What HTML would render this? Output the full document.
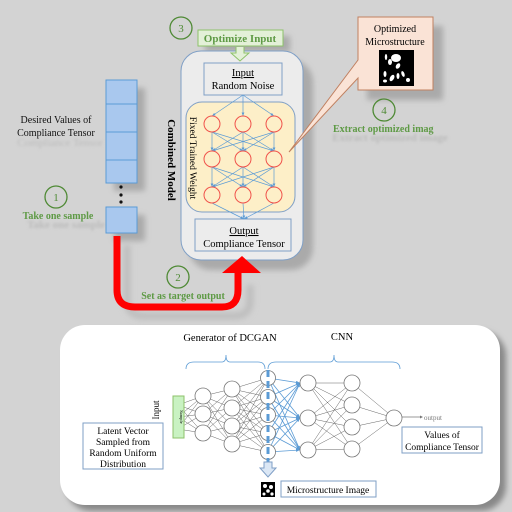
<!DOCTYPE html>
<html><head><meta charset="utf-8"><style>
html,body{margin:0;padding:0;width:512px;height:512px;overflow:hidden;background:#d3d3d3}
svg{display:block}
text{font-family:"Liberation Serif",serif}
</style></head><body>
<svg id="s" width="512" height="512" viewBox="0 0 512 512" xmlns="http://www.w3.org/2000/svg">
<defs>
<filter id="bl" x="-20%" y="-20%" width="140%" height="140%"><feGaussianBlur stdDeviation="3"/></filter>
<filter id="bl2"><feGaussianBlur stdDeviation="1.2"/></filter>
<marker id="ab" markerWidth="6" markerHeight="6" refX="5" refY="3" orient="auto"><path d="M0,1 L5,3 L0,5z" fill="#5b9bd5"/></marker>
</defs>
<rect width="512" height="512" fill="#d3d3d3"/>
<g fill="#a0a0a0" filter="url(#bl)" opacity="0.8">
<rect x="114" y="88" width="31" height="103"/>
<rect x="114" y="215" width="31" height="26"/>
<rect x="189" y="60" width="124" height="210" rx="22"/>
<rect x="367" y="26" width="76" height="74"/>
<rect x="205" y="36" width="85" height="16"/>
</g>
<g fill="none" stroke="#bdbdbd" stroke-width="7" filter="url(#bl)"><path d="M127,245 V300 Q127,316 145,316 H235 Q250,316 250,300 V285"/></g>
<g fill="#bbb" font-size="11" filter="url(#bl2)" font-weight="bold">
<text x="66" y="228" text-anchor="middle">Take one sample</text>
<text x="390" y="141" text-anchor="middle">Extract optimized image</text>
<text x="60" y="146" text-anchor="middle" font-weight="normal">Compliance Tensor</text>
</g>
<g fill="#a9c8ee" stroke="#5b9bd5" stroke-width="1">
<rect x="106" y="80" width="31" height="24"/><rect x="106" y="104" width="31" height="28"/>
<rect x="106" y="132" width="31" height="28"/><rect x="106" y="160" width="31" height="23"/>
<rect x="106" y="207" width="31" height="26"/>
</g>
<g fill="#111"><circle cx="121" cy="187" r="1.6"/><circle cx="121" cy="195" r="1.6"/><circle cx="121" cy="202" r="1.6"/></g>
<text x="56" y="123" font-size="10" text-anchor="middle" fill="#111">Desired Values of</text>
<text x="56" y="136" font-size="10" text-anchor="middle" fill="#111">Compliance Tensor</text>
<g fill="none" stroke="#4f8a35" stroke-width="1.3">
<circle cx="56" cy="197" r="11"/><circle cx="181" cy="28" r="11"/><circle cx="384" cy="110" r="11"/><circle cx="178" cy="277" r="11"/></g>
<g fill="#4f8a35" font-size="11" text-anchor="middle"><text x="56" y="201">1</text><text x="181" y="32">3</text><text x="384" y="114">4</text><text x="178" y="281">2</text></g>
<g fill="#5e9a45" font-size="10" font-weight="bold">
<text x="58" y="219" text-anchor="middle">Take one sample</text>
<text x="183" y="299" text-anchor="middle">Set as target output</text>
<text x="333" y="132">Extract optimized imag</text></g>
<rect x="181" y="51" width="122" height="209" rx="20" fill="#ececec" stroke="#7f9fc6"/>
<rect x="204" y="63" width="78" height="32" fill="#ececec" stroke="#7f9fc6"/>
<text x="243" y="76" font-size="10.5" text-anchor="middle" text-decoration="underline">Input</text>
<text x="243" y="89" font-size="10.5" text-anchor="middle">Random Noise</text>
<rect x="186" y="102" width="109" height="110" rx="16" fill="#fdefc8" stroke="#7f9fc6"/>
<rect x="195" y="219" width="96" height="32" fill="#ececec" stroke="#7f9fc6"/>
<text x="244" y="234" font-size="10.5" text-anchor="middle" text-decoration="underline">Output</text>
<text x="244" y="247" font-size="10.5" text-anchor="middle">Compliance Tensor</text>
<text transform="translate(168,160) rotate(90)" font-size="11" font-weight="bold" text-anchor="middle">Combined Model</text>
<text transform="translate(190,158) rotate(90)" font-size="9.5" text-anchor="middle">Fixed Trained Weight</text>
<g id="nn" stroke="#5b9bd5" stroke-width="0.7" fill="none"></g>
<g id="nc" fill="#fdefc8" stroke="#f0524b" stroke-width="1"></g>
<rect x="198" y="30" width="85" height="16" fill="#e3f0d8" stroke="#8dc26a"/>
<text x="240" y="42" font-size="11" font-weight="bold" text-anchor="middle" fill="#5e9a45">Optimize Input</text>
<path d="M236,47 V53 H231 L240,61 L249,53 H244 V47" fill="#e3f0d8" stroke="#8dc26a"/>
<path d="M358,17 H433 V90 H358 V78 L289,152 L358,60 Z" fill="#fae3d6" stroke="#c08060"/>
<text x="395" y="32" font-size="10" text-anchor="middle">Optimized</text>
<text x="395" y="45" font-size="10" text-anchor="middle">Microstructure</text>
<rect x="379" y="50" width="35" height="36" fill="#000"/>
<g fill="#fff"><ellipse cx="396" cy="58" rx="5" ry="4"/><ellipse cx="390" cy="62" rx="2" ry="3"/><ellipse cx="386" cy="57" rx="1.2" ry="3"/><ellipse cx="398" cy="66" rx="2" ry="3" transform="rotate(30 398 66)"/><ellipse cx="385" cy="74" rx="1.5" ry="3"/><ellipse cx="392" cy="78" rx="2" ry="3.5" transform="rotate(30 392 78)"/><ellipse cx="398" cy="76" rx="1.5" ry="3"/><ellipse cx="403" cy="74" rx="1.5" ry="3" transform="rotate(-20 403 74)"/><circle cx="408" cy="80" r="2"/><ellipse cx="385" cy="81" rx="2" ry="1.5"/></g>
<path d="M117,236 V290 Q117,307 135,307 H222 Q238,307 238,290 V271" fill="none" stroke="#ff0000" stroke-width="7"/>
<path d="M222,273 L242,256 L261,273 Z" fill="#ff0000"/>
<rect x="66" y="331" width="440" height="180" rx="25" fill="#888" filter="url(#bl)"/>
<rect x="60" y="325" width="440" height="180" rx="25" fill="#fff"/>
<text x="230" y="341" font-size="10.5" text-anchor="middle">Generator of DCGAN</text>
<text x="342" y="340" font-size="10.5" text-anchor="middle">CNN</text>
<g fill="none" stroke="#5b9bd5" stroke-width="0.8">
<path d="M186,369 Q186,362 194,362 H222 Q226,362 226,355 Q226,362 230,362 H258 Q265,362 265,369"/>
<path d="M268,369 Q268,362 276,362 H330 Q334,362 334,355 Q334,362 338,362 H392 Q400,362 400,369"/>
</g>
<g id="bn" stroke="#666" stroke-width="0.5" fill="none"></g>
<g id="bc" fill="#fff" stroke="#777" stroke-width="0.8"></g>
<rect x="173" y="396" width="11" height="42" fill="#c9f2c2" stroke="#8dc26a"/>
<text transform="translate(180,417) rotate(90)" font-size="4.5" text-anchor="middle">Sample</text>
<text transform="translate(159,410) rotate(-90)" font-size="9" text-anchor="middle">Input</text>
<line x1="268" y1="370" x2="268" y2="462" stroke="#5b9bd5" stroke-width="3" stroke-dasharray="7,4"/>
<path d="M264,462 H272 V468 H276 L268,477 L260,468 H264 Z" fill="#dbe7f5" stroke="#7f9fc6"/>
<rect x="261" y="482" width="14" height="15" fill="#000"/>
<g fill="#fff"><circle cx="265" cy="486" r="2"/><circle cx="271" cy="487" r="2"/><circle cx="268" cy="491" r="1.8"/><circle cx="264" cy="494" r="1.5"/><circle cx="272" cy="494" r="1.6"/></g>
<rect x="281" y="481" width="95" height="16" fill="#fff" stroke="#7f9fc6"/>
<text x="328" y="493" font-size="9.5" text-anchor="middle">Microstructure Image</text>
<rect x="83" y="423" width="80" height="46" fill="#fff" stroke="#7f9fc6"/>
<g font-size="9.5" text-anchor="middle"><text x="123" y="434">Latent Vector</text><text x="123" y="445">Sampled from</text><text x="123" y="456">Random Uniform</text><text x="123" y="467">Distribution</text></g>
<rect x="402" y="427" width="80" height="26" fill="#fff" stroke="#7f9fc6"/>
<g font-size="9.5" text-anchor="middle"><text x="442" y="438">Values of</text><text x="442" y="450">Compliance Tensor</text></g>
<line x1="402" y1="417" x2="420" y2="417" stroke="#777" stroke-width="0.7"/>
<path d="M420,415.5 L423,417 L420,418.5z" fill="#777"/>
<text x="424" y="420" font-size="7" fill="#777">output</text>
</svg>
<script>
var NS="http://www.w3.org/2000/svg";
function el(g,t,a){var e=document.createElementNS(NS,t);for(var k in a)e.setAttribute(k,a[k]);document.getElementById(g).appendChild(e);}
var xs=[212,243,274],ys=[124,159,195];
xs.forEach(function(x){el("nn","line",{x1:243,y1:95,x2:x,y2:ys[0]-8,"marker-end":"url(#ab)"});el("nn","line",{x1:x,y1:ys[2]+8,x2:244,y2:219,"marker-end":"url(#ab)"});});
for(var l=0;l<2;l++)xs.forEach(function(a){xs.forEach(function(b){el("nn","line",{x1:a,y1:ys[l]+8,x2:b,y2:ys[l+1]-8,"marker-end":"url(#ab)"});});});
xs.forEach(function(x){ys.forEach(function(y){el("nc","circle",{cx:x,cy:y,r:8});});});
var L=[[178,[405,417,429]],[203,[396,414,433]],[232,[389,408,426,444]],[268,[378,397,415,433,452]],[308,[383,418,450]],[352,[383,405,427,449]],[394,[418]]];
for(var i=0;i<L.length-1;i++){L[i][1].forEach(function(a){L[i+1][1].forEach(function(b){
 var blue=(i==3);el("bn","line",{x1:L[i][0],y1:a,x2:L[i+1][0]-(blue?8:0),y2:b,stroke:blue?"#5b9bd5":"#666","stroke-width":blue?0.8:0.5,"marker-end":blue?"url(#ab)":""});});});}
for(var i=1;i<L.length;i++)L[i][1].forEach(function(y){el("bc","circle",{cx:L[i][0],cy:y,r:i==3?7.5:8});});
</script>
</body></html>
